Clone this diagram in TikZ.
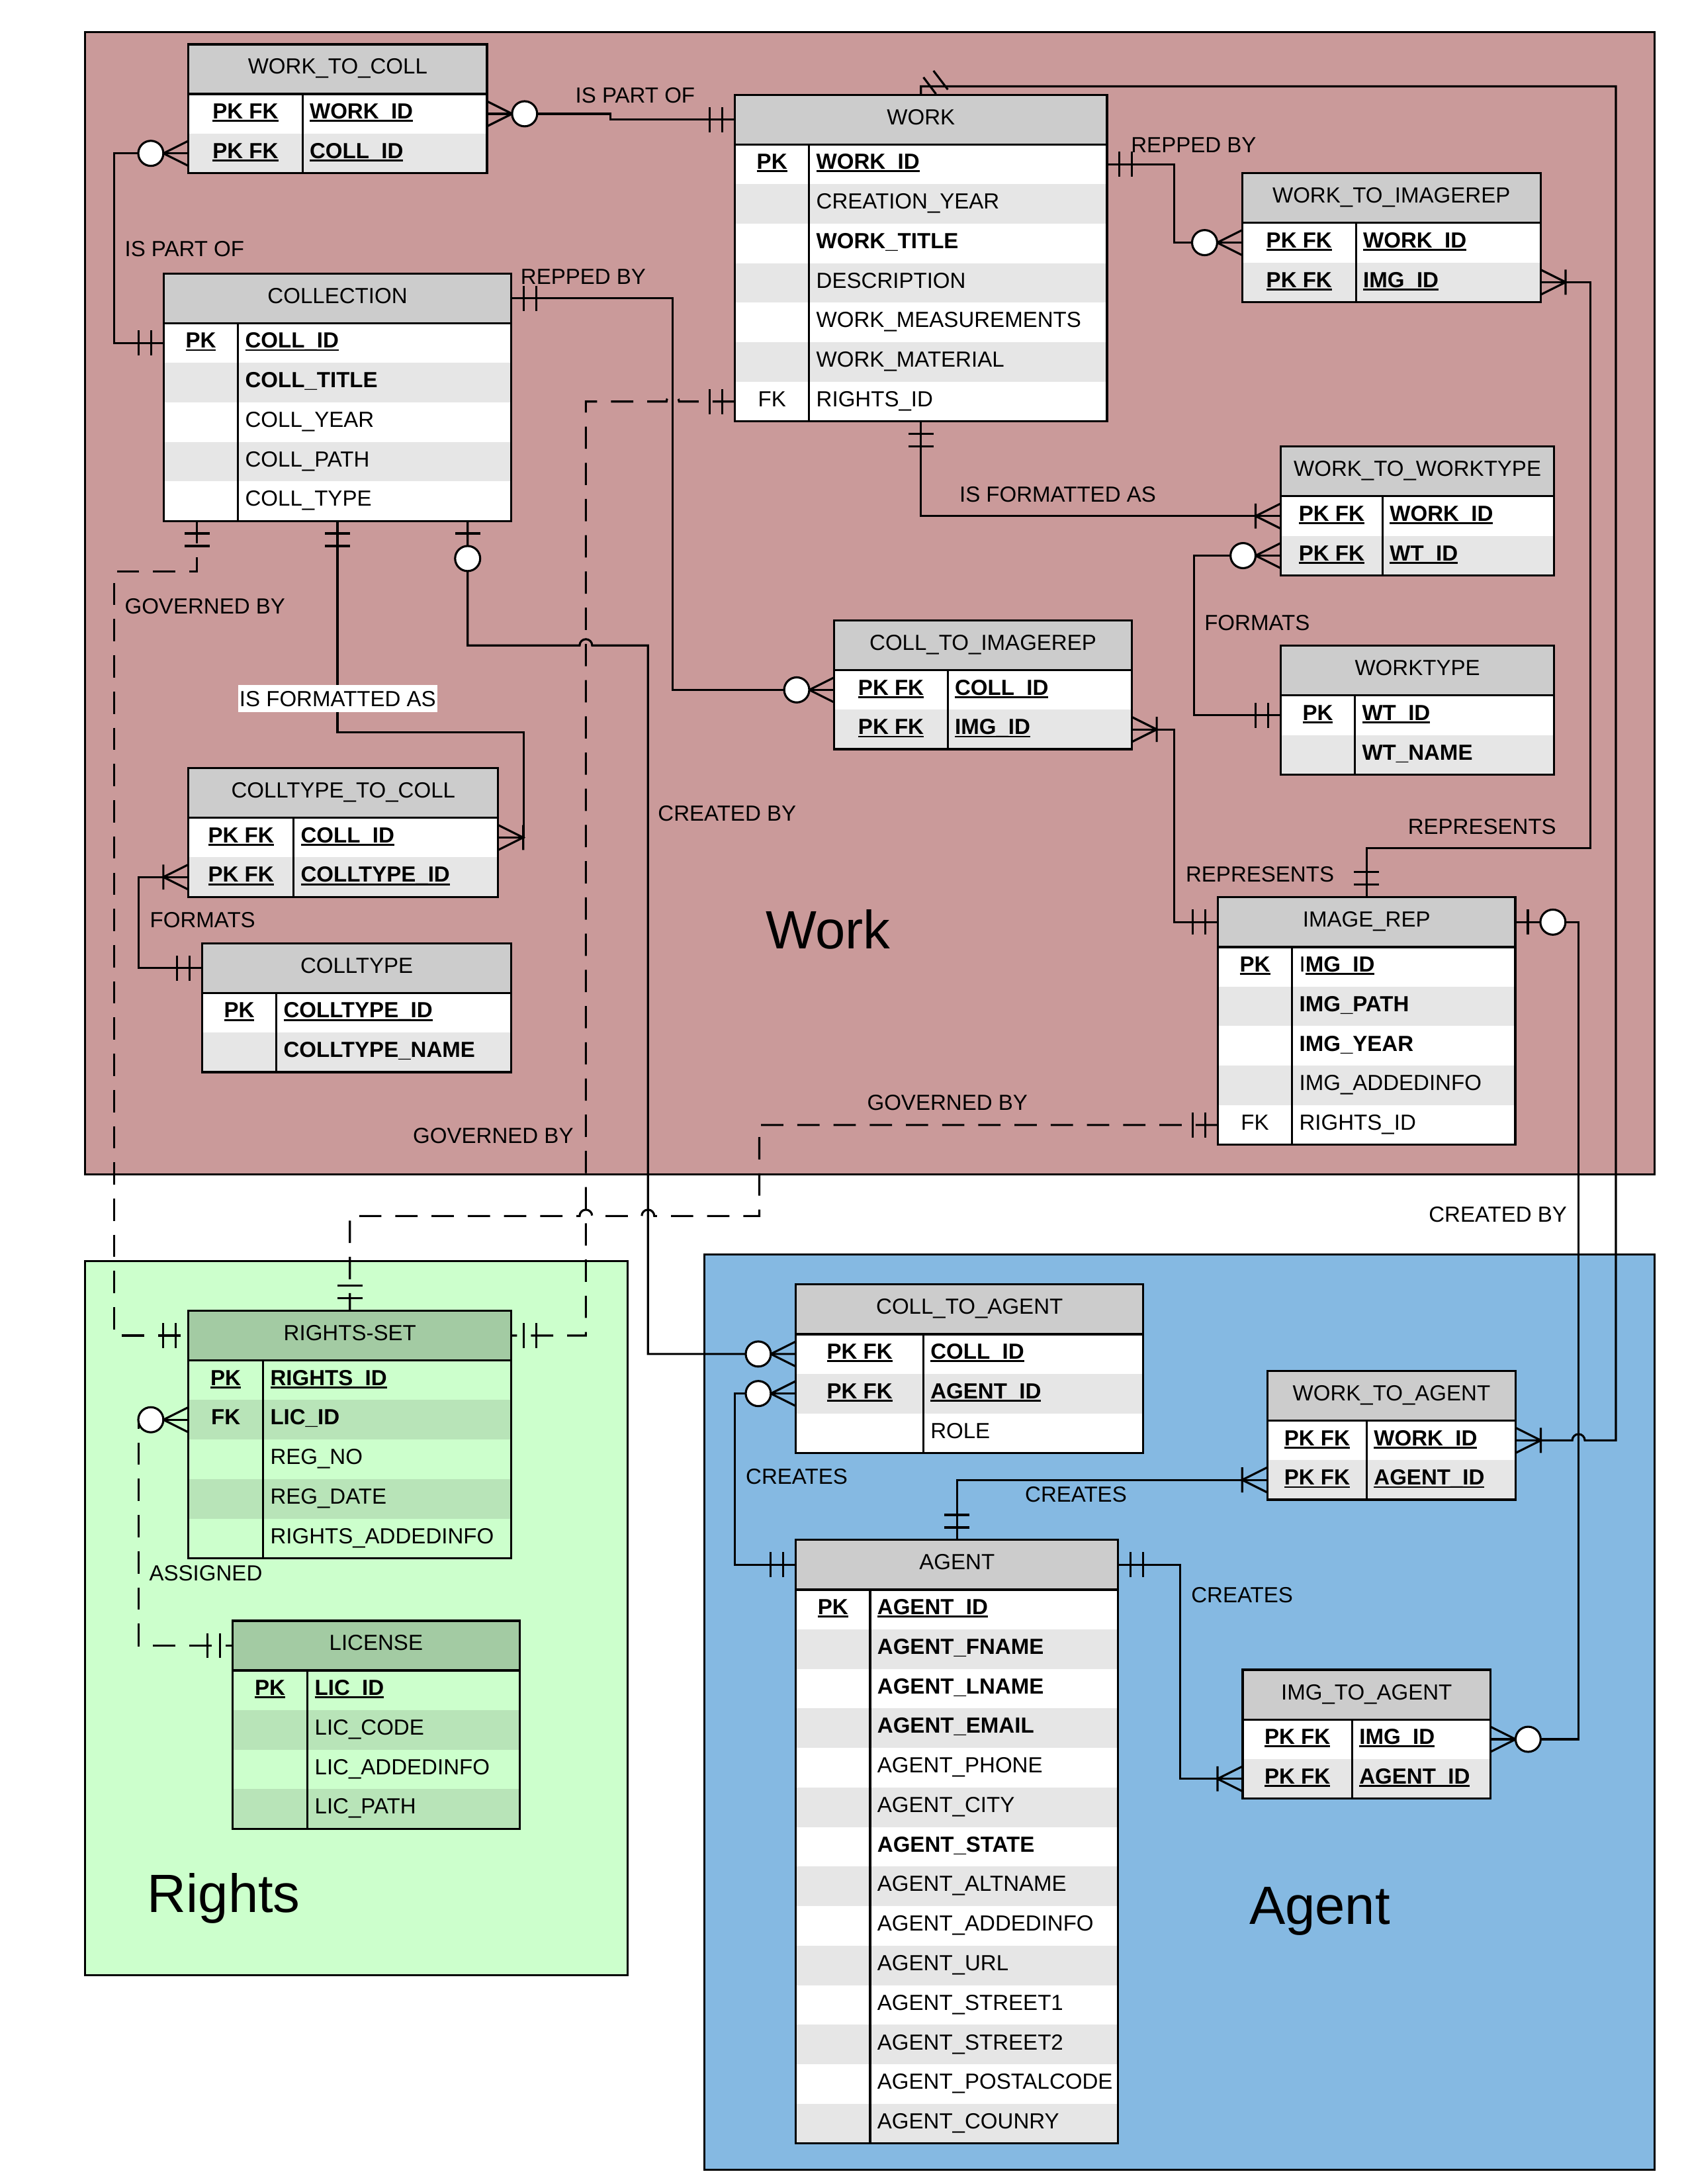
\documentclass[tikz,border=0pt]{standalone}
\usepackage{fontspec}
\setmainfont{Liberation Sans}
\usetikzlibrary{calc}

% area and table colours
\definecolor{workbg}{HTML}{CA9A9A}
\definecolor{rightsbg}{HTML}{CCFFCC}
\definecolor{agentbg}{HTML}{85B9E2}
\definecolor{hdg}{HTML}{CCCCCC}
\definecolor{oddg}{HTML}{FFFFFF}
\definecolor{eveng}{HTML}{E6E6E6}
\definecolor{hdn}{HTML}{A3CBA3}
\definecolor{oddn}{HTML}{CCFFCC}
\definecolor{evenn}{HTML}{B8E4B8}

\newcommand\ertfont{\fontsize{15.7}{18}\selectfont}
\newcommand\regionfont{\fontsize{38.7}{44}\selectfont}
% underline sitting just below the baseline
\newcommand\erul[1]{\setbox0\hbox{#1}\rlap{\rule[-2.2pt]{\wd0}{1.4pt}}\box0}
\newcommand\kpk[1]{\textbf{\erul{#1}}}
\newcommand\kbf[1]{\textbf{#1}}

\tikzset{
  hdbox/.style={inner sep=0pt, outer sep=0pt, minimum height=35.7pt},
  rowbox/.style={inner sep=0pt, outer sep=0pt, minimum height=28.4pt},
  tabframe/.style={draw, line width=1.5pt, inner sep=0pt, outer sep=0pt},
  tabline/.style={line width=1.5pt},
  txt/.style={inner sep=0pt, font=\ertfont},
  lbl/.style={inner sep=0pt, font=\ertfont, anchor=west},
  region/.style={draw, line width=1.5pt},
  regionlbl/.style={inner sep=0pt, font=\regionfont, anchor=base west},
  conn/.style={line width=1.5pt},
  govern/.style={conn, dash pattern=on 16pt off 10pt},
  mk/.style={line width=1.5pt, solid},
  pics/mandone/.style={code={\draw[mk] (9,-9) -- (9,9) (18,-9) -- (18,9);}},
  pics/onemany/.style={code={\draw[mk] (0,-9) -- (18,0) -- (0,9) (18,-9) -- (18,9);}},
  pics/zeromany/.style={code={\draw[mk] (0,-9) -- (18,0) -- (0,9); \draw[mk,fill=white] (27,0) circle[radius=9pt];}},
  pics/zeroone/.style={code={\draw[mk] (9,-9) -- (9,9); \draw[mk,fill=white] (27,0) circle[radius=9pt];}},
}

% entity table: #1 name, #2 left, #3 top, #4 width, #5 key column width,
% #6 title, #7 palette (g or n), #8 rows as key/field pairs
\newcommand\ertab[8]{%
  \begin{scope}[shift={(#2,#3)}]
    \node[hdbox, fill=hd#7, minimum width=#4pt, anchor=north west] (#1-h) at (0,0) {};
    \node[txt, anchor=base] (#1-t) at ({#4/2},21.4) {#6};
    \foreach \ekey/\efld [count=\erow] in {#8} {%
      \ifodd\erow\relax\def\rowfill{odd#7}\else\def\rowfill{even#7}\fi
      \node[rowbox, fill=\rowfill, minimum width=#4pt, anchor=north west] (#1-\erow) at (0,{35.7+(\erow-1)*28.4}) {};
      \node[txt, anchor=base] (#1-k\erow) at ({#5/2},{35.7+(\erow-1)*28.4+17.85}) {\ekey};
      \node[txt, anchor=base west] (#1-f\erow) at ({#5+5},{35.7+(\erow-1)*28.4+17.85}) {\efld};
      \xdef\ertlast{\erow}%
    }
    \pgfmathsetmacro\erth{35.7+\ertlast*28.4}
    \node[tabframe, minimum width=#4pt, minimum height=\erth pt, anchor=north west] (#1) at (0,0) {};
    \draw[tabline] (#1-h.south west) -- (#1-h.south east);
    \draw[tabline] (#5,35.7) -- (#5,\erth);
  \end{scope}}

\begin{document}
\begin{tikzpicture}[x=1pt,y=-1pt]
\useasboundingbox (0,0) rectangle (1212,1568);

% ---------- subject areas ----------
\draw[region, fill=workbg] (61,23) rectangle (1188,843);
\draw[region, fill=rightsbg] (61,905.5) rectangle (450.6,1418);
\draw[region, fill=agentbg] (505.8,900.5) rectangle (1188,1557.7);

% ---------- tables ----------
\ertab{wtc}{135.3}{31.8}{214.4}{81.9}{WORK\_TO\_COLL}{g}{%
  {\kpk{PK FK}}/{\kpk{WORK\_ID}},{\kpk{PK FK}}/{\kpk{COLL\_ID}}}
\ertab{work}{527.7}{68}{267.2}{53.3}{WORK}{g}{%
  {\kpk{PK}}/{\kpk{WORK\_ID}},{}/{CREATION\_YEAR},{}/{\kbf{WORK\_TITLE}},%
  {}/{DESCRIPTION},{}/{WORK\_MEASUREMENTS},{}/{WORK\_MATERIAL},{FK}/{RIGHTS\_ID}}
\ertab{wti}{892}{124.3}{214.2}{81.7}{WORK\_TO\_IMAGEREP}{g}{%
  {\kpk{PK FK}}/{\kpk{WORK\_ID}},{\kpk{PK FK}}/{\kpk{IMG\_ID}}}
\ertab{coll}{117.5}{196.3}{249.7}{53.4}{COLLECTION}{g}{%
  {\kpk{PK}}/{\kpk{COLL\_ID}},{}/{\kbf{COLL\_TITLE}},{}/{COLL\_YEAR},{}/{COLL\_PATH},{}/{COLL\_TYPE}}
\ertab{wtw}{919.6}{320.6}{196.4}{73.2}{WORK\_TO\_WORKTYPE}{g}{%
  {\kpk{PK FK}}/{\kpk{WORK\_ID}},{\kpk{PK FK}}/{\kpk{WT\_ID}}}
\ertab{wtype}{919.6}{463.6}{196.4}{53.3}{WORKTYPE}{g}{%
  {\kpk{PK}}/{\kpk{WT\_ID}},{}/{\kbf{WT\_NAME}}}
\ertab{cti}{599.1}{445.4}{213.5}{81.4}{COLL\_TO\_IMAGEREP}{g}{%
  {\kpk{PK FK}}/{\kpk{COLL\_ID}},{\kpk{PK FK}}/{\kpk{IMG\_ID}}}
\ertab{cttc}{135.3}{551.4}{222.4}{75.5}{COLLTYPE\_TO\_COLL}{g}{%
  {\kpk{PK FK}}/{\kpk{COLL\_ID}},{\kpk{PK FK}}/{\kpk{COLLTYPE\_ID}}}
\ertab{ctype}{145.1}{677.2}{222.1}{53.3}{COLLTYPE}{g}{%
  {\kpk{PK}}/{\kpk{COLLTYPE\_ID}},{}/{\kbf{COLLTYPE\_NAME}}}
\ertab{img}{874.5}{644.2}{213.6}{53.3}{IMAGE\_REP}{g}{%
  {\kpk{PK}}/{I\kpk{MG\_ID}},{}/{\kbf{IMG\_PATH}},{}/{\kbf{IMG\_YEAR}},{}/{IMG\_ADDEDINFO},{FK}/{RIGHTS\_ID}}
\ertab{rights}{135.3}{941}{231.9}{53.6}{RIGHTS-SET}{n}{%
  {\kpk{PK}}/{\kpk{RIGHTS\_ID}},{\kbf{FK}}/{\kbf{LIC\_ID}},{}/{REG\_NO},{}/{REG\_DATE},{}/{RIGHTS\_ADDEDINFO}}
\ertab{lic}{167}{1163.6}{206.1}{53.8}{LICENSE}{n}{%
  {\kpk{PK}}/{\kpk{LIC\_ID}},{}/{LIC\_CODE},{}/{LIC\_ADDEDINFO},{}/{LIC\_PATH}}
\ertab{cta}{571.5}{922.2}{249.4}{91.5}{COLL\_TO\_AGENT}{g}{%
  {\kpk{PK FK}}/{\kpk{COLL\_ID}},{\kpk{PK FK}}/{\kpk{AGENT\_ID}},{}/{ROLE}}
\ertab{wta}{910}{984.2}{178.4}{71.4}{WORK\_TO\_AGENT}{g}{%
  {\kpk{PK FK}}/{\kpk{WORK\_ID}},{\kpk{PK FK}}/{\kpk{AGENT\_ID}}}
\ertab{agent}{571.5}{1105.6}{231.4}{53.3}{AGENT}{g}{%
  {\kpk{PK}}/{\kpk{AGENT\_ID}},{}/{\kbf{AGENT\_FNAME}},{}/{\kbf{AGENT\_LNAME}},{}/{\kbf{AGENT\_EMAIL}},%
  {}/{AGENT\_PHONE},{}/{AGENT\_CITY},{}/{\kbf{AGENT\_STATE}},{}/{AGENT\_ALTNAME},%
  {}/{AGENT\_ADDEDINFO},{}/{AGENT\_URL},{}/{AGENT\_STREET1},{}/{AGENT\_STREET2},%
  {}/{AGENT\_POSTALCODE},{}/{AGENT\_COUNRY}}
\ertab{ita}{892.3}{1198.8}{178}{78.6}{IMG\_TO\_AGENT}{g}{%
  {\kpk{PK FK}}/{\kpk{IMG\_ID}},{\kpk{PK FK}}/{\kpk{AGENT\_ID}}}

% ---------- routing points ----------
\coordinate (wr) at (1160.3,62);
\coordinate (hopa) at (1133.5,0);
\coordinate (c4) at (1142,608.7);
\coordinate (cb1) at ($(coll.south west)+(24,0)$);
\coordinate (cb3) at ($(coll.south west)+(218.3,0)$);
\coordinate (hopb) at (420.7,0);
\coordinate (hopc) at (483.1,0);
\coordinate (cv) at (465.3,463.4);
\coordinate (c12) at (376.2,525.9);
\coordinate (gl) at (82,410.4);
\coordinate (gh) at (545.2,873);

% ---------- relationships ----------
\draw[conn] (wtc-1.east) -- ++(88.6,0) |- (work-h.west);
\draw[conn] (work.north) |- (wr) |- ($(hopa |- wta-1.east)+(4.5,0)$)
  arc[start angle=0,end angle=180,radius=4.5pt] -- (wta-1.east);
\draw[conn] (work-1.east) -- ++(48.4,0) |- (wti-1.west);
\draw[conn] (wti-2.east) -| (c4) -| (img.north);
\draw[conn] (work.south) |- (wtw-1.west);
\draw[conn] (wtw-2.west) -- ++(-62.4,0) |- (wtype-1.west);
\draw[conn] (wtc-2.west) -- ++(-53.3,0) |- (coll-1.west);
\draw[conn] (coll-h.east) -| ($(cti-1.west)+(-116,0)$) -- (cti-1.west);
\draw[conn] (cti-2.east) -- ++(30.7,0) |- (img-h.west);
\draw[conn] (img-h.east) -- ++(45.4,0) |- (ita-1.east);
\draw[conn] (cb3) |- ($(hopb |- cv)+(-4.5,0)$)
  arc[start angle=180,end angle=0,radius=4.5pt] -- (cv) |- (cta-1.west);
\draw[conn] (coll.south) |- (c12) |- (cttc-1.east);
\draw[conn] (cttc-2.west) -- ++(-35.6,0) |- (ctype-h.west);
\draw[govern] (cb1) |- (gl) |- (rights-h.west);
\draw[govern] (work-7.west) -- ($(hopc |- work-7.west)+(4.5,0)$)
  arc[start angle=0,end angle=180,radius=4.5pt] -- (hopb |- work-7.west) |- (rights-h.east);
\draw[govern] (img-5.west) -| (gh) -- ($(cv |- gh)+(4.5,0)$)
  arc[start angle=0,end angle=180,radius=4.5pt] -- ($(hopb |- gh)+(4.5,0)$)
  arc[start angle=0,end angle=180,radius=4.5pt] -- (rights.north |- gh) -- (rights.north);
\draw[govern] (rights-2.west) -- ++(-35.6,0) |- (lic-h.west);
\draw[conn] (cta-2.west) -- ++(-43.8,0) |- (agent-h.west);
\draw[conn] (agent.north) |- (wta-2.west);
\draw[conn] (agent-h.east) -- ++(44.5,0) |- (ita-2.west);

% ---------- cardinality marks ----------
\pic at (wtc-1.east) {zeromany};
\pic[rotate=180] at (work-h.west) {mandone};
\draw[mk] ($(work.north)+(1.8,-12.5)$) -- ($(work.north)+(10.8,-0.5)$)
          ($(work.north)+(9,-17.2)$) -- ($(work.north)+(19.3,-3.7)$);
\pic at (wta-1.east) {onemany};
\pic at (work-1.east) {mandone};
\pic[rotate=180] at (wti-1.west) {zeromany};
\pic at (wti-2.east) {onemany};
\pic[rotate=90] at (img.north) {mandone};
\pic[rotate=-90] at (work.south) {mandone};
\pic[rotate=180] at (wtw-1.west) {onemany};
\pic[rotate=180] at (wtw-2.west) {zeromany};
\pic[rotate=180] at (wtype-1.west) {mandone};
\pic[rotate=180] at (wtc-2.west) {zeromany};
\pic[rotate=180] at (coll-1.west) {mandone};
\pic at (coll-h.east) {mandone};
\pic[rotate=180] at (cti-1.west) {zeromany};
\pic at (cti-2.east) {onemany};
\pic[rotate=180] at (img-h.west) {mandone};
\pic at (img-h.east) {zeroone};
\pic at (ita-1.east) {zeromany};
\pic[rotate=-90] at (cb3) {zeroone};
\pic[rotate=180] at (cta-1.west) {zeromany};
\pic[rotate=-90] at (coll.south) {mandone};
\pic at (cttc-1.east) {onemany};
\pic[rotate=180] at (cttc-2.west) {onemany};
\pic[rotate=180] at (ctype-h.west) {mandone};
\pic[rotate=-90] at (cb1) {mandone};
\pic[rotate=180] at (rights-h.west) {mandone};
\pic[rotate=180] at (work-7.west) {mandone};
\pic at (rights-h.east) {mandone};
\pic[rotate=180] at (img-5.west) {mandone};
\pic[rotate=90] at (rights.north) {mandone};
\pic[rotate=180] at (rights-2.west) {zeromany};
\pic[rotate=180] at (lic-h.west) {mandone};
\pic[rotate=180] at (cta-2.west) {zeromany};
\pic[rotate=180] at (agent-h.west) {mandone};
\pic[rotate=90] at (agent.north) {mandone};
\pic[rotate=180] at (wta-2.west) {onemany};
\pic at (agent-h.east) {mandone};
\pic[rotate=180] at (ita-2.west) {onemany};

% ---------- relationship labels ----------
\node[lbl] (l1) at (413,68.5) {IS PART OF};
\node[lbl] (l2) at (812,104) {REPPED BY};
\node[lbl] (l3) at (89.4,178.8) {IS PART OF};
\node[lbl] (l4) at (373.7,198.8) {REPPED BY};
\node[lbl] (l5) at (688.8,355) {IS FORMATTED AS};
\node[lbl] (l6) at (864.7,447) {FORMATS};
\node[lbl] (l7) at (89.4,435.4) {GOVERNED BY};
\node[txt, fill=white, inner xsep=1pt, inner ysep=4.2pt] (l8) at (242.5,501.7) {IS FORMATTED AS};
\node[lbl] (l9) at (472.3,584) {CREATED BY};
\node[lbl] (l10) at (1010.8,593.5) {REPRESENTS};
\node[lbl] (l11) at (851.3,627.8) {REPRESENTS};
\node[lbl] (l12) at (107.5,660.7) {FORMATS};
\node[lbl] (l13) at (622.5,791.8) {GOVERNED BY};
\node[lbl] (l14) at (296.4,815.5) {GOVERNED BY};
\node[lbl] (l15) at (1025.8,872) {CREATED BY};
\node[lbl] (l16) at (535.4,1060) {CREATES};
\node[lbl] (l17) at (735.9,1073) {CREATES};
\node[lbl] (l18) at (107,1129.4) {ASSIGNED};
\node[lbl] (l19) at (855.2,1145) {CREATES};

% ---------- area titles ----------
\node[regionlbl] (t-work) at (549.6,681) {Work};
\node[regionlbl] (t-rights) at (105.7,1373.1) {Rights};
\node[regionlbl] (t-agent) at (896.9,1381.4) {Agent};
\end{tikzpicture}
\end{document}
